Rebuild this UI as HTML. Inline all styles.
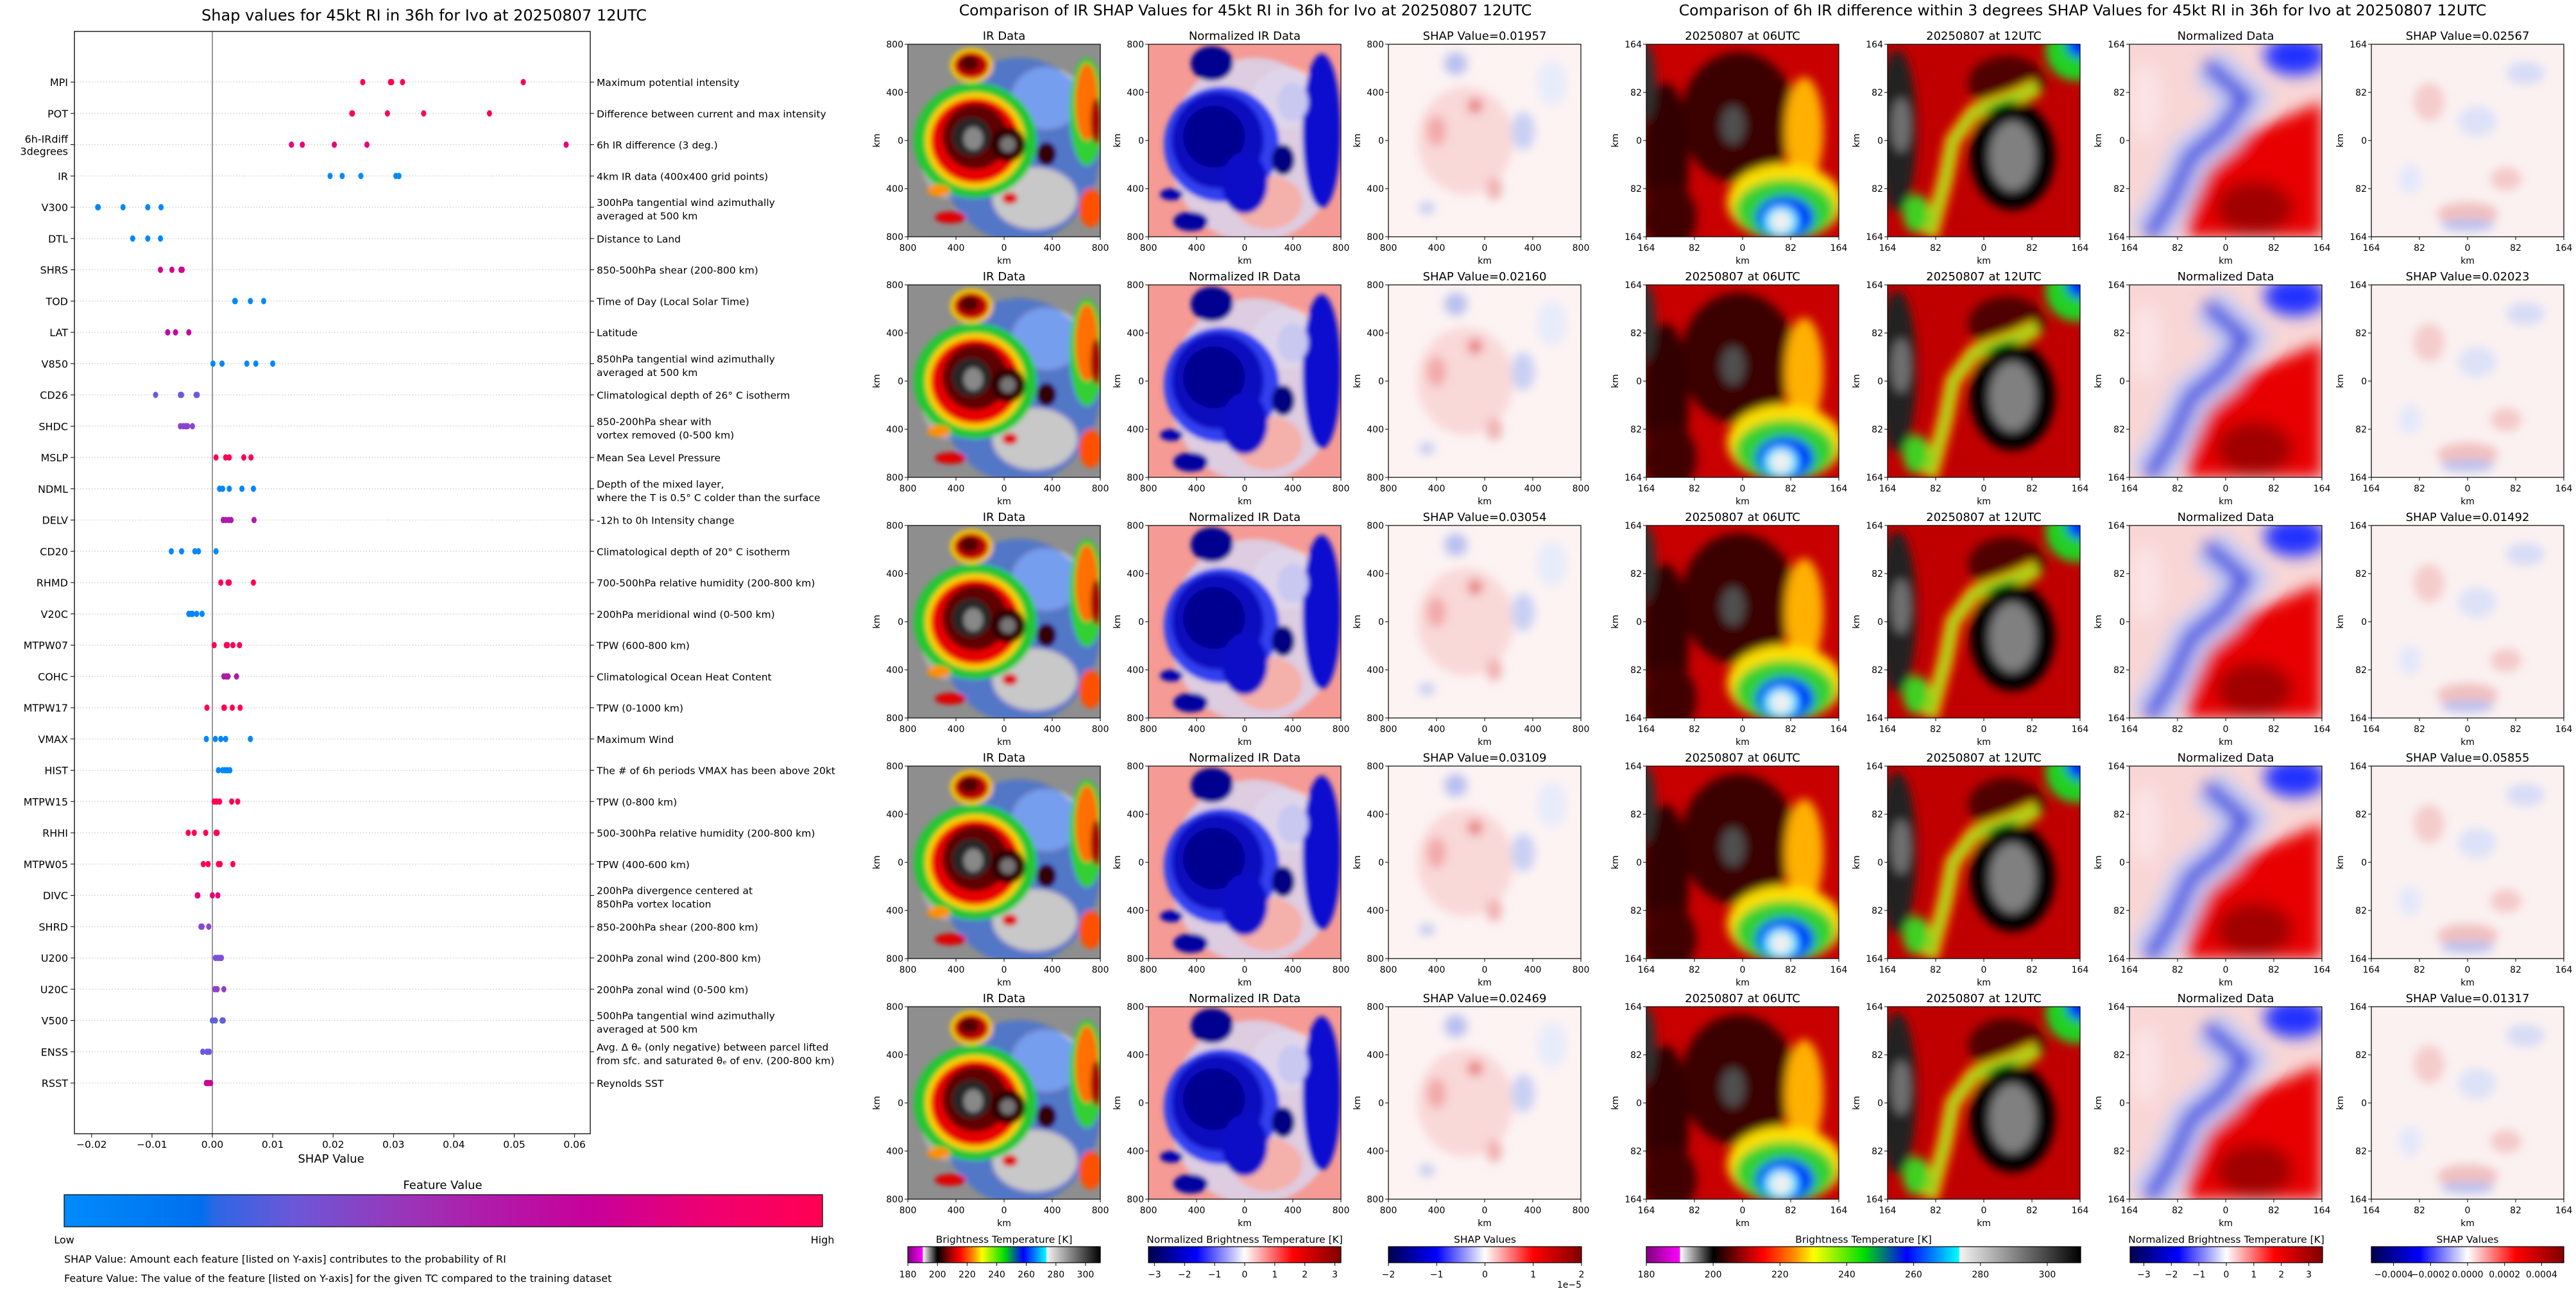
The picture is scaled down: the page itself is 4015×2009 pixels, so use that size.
<!DOCTYPE html>
<html><head><meta charset="utf-8">
<style>
html,body{margin:0;padding:0;background:#fff;}
body{width:4015px;height:2009px;overflow:hidden;}
svg{display:block;font-family:"DejaVu Sans","Liberation Sans",sans-serif;}
</style></head>
<body>
<svg id="root" width="4015" height="2009" viewBox="0 0 4015 2009" xmlns="http://www.w3.org/2000/svg">
<defs>
<filter id="b1" x="-20%" y="-20%" width="140%" height="140%"><feGaussianBlur stdDeviation="1.2"/></filter>
<filter id="b2" x="-20%" y="-20%" width="140%" height="140%"><feGaussianBlur stdDeviation="2.5"/></filter>
<filter id="b3" x="-20%" y="-20%" width="140%" height="140%"><feGaussianBlur stdDeviation="4"/></filter>
<linearGradient id="gFeat" x1="0" x2="1" y1="0" y2="0">
<stop offset="0" stop-color="#008bfb"/><stop offset="0.18" stop-color="#0070ee"/><stop offset="0.2" stop-color="#2d66e4"/><stop offset="0.3" stop-color="#6a58d8"/><stop offset="0.45" stop-color="#9a35b8"/><stop offset="0.6" stop-color="#b812a4"/><stop offset="0.7" stop-color="#c8009a"/><stop offset="0.85" stop-color="#ef0070"/><stop offset="1" stop-color="#ff0052"/>
</linearGradient>
<linearGradient id="gBT" x1="0" x2="1" y1="0" y2="0">
<stop offset="0" stop-color="#800080"/><stop offset="0.077" stop-color="#ff00ff"/><stop offset="0.078" stop-color="#ffffff"/><stop offset="0.154" stop-color="#000000"/><stop offset="0.23" stop-color="#b00000"/><stop offset="0.27" stop-color="#ff0000"/><stop offset="0.34" stop-color="#ff8c00"/><stop offset="0.385" stop-color="#ffff00"/><stop offset="0.5" stop-color="#00e000"/><stop offset="0.6" stop-color="#0000ff"/><stop offset="0.72" stop-color="#00ffff"/><stop offset="0.721" stop-color="#f4f4f4"/><stop offset="1" stop-color="#000000"/>
</linearGradient>
<linearGradient id="gSeis" x1="0" x2="1" y1="0" y2="0">
<stop offset="0" stop-color="#00004c"/><stop offset="0.25" stop-color="#0000ff"/><stop offset="0.5" stop-color="#ffffff"/><stop offset="0.75" stop-color="#ff0000"/><stop offset="1" stop-color="#800000"/>
</linearGradient>

<symbol id="symIR" viewBox="0 0 100 100" preserveAspectRatio="none">
<rect width="100" height="100" fill="#8e8e8e"/>
<g filter="url(#b1)">
<ellipse cx="72" cy="28" rx="18" ry="16" fill="#dcdcdc"/>
<ellipse cx="20" cy="55" rx="14" ry="25" fill="#b0b0b0"/>
<ellipse cx="58" cy="55" rx="42" ry="48" fill="#1060ff" opacity="0.5"/>
<ellipse cx="66" cy="80" rx="22" ry="16" fill="#c8c8c8"/>
<ellipse cx="35" cy="50" rx="32" ry="30" fill="#20c830"/>
<ellipse cx="35" cy="50" rx="26" ry="25" fill="#ffd000"/>
<ellipse cx="35" cy="50" rx="23" ry="22" fill="#e80000"/>
<ellipse cx="35" cy="48" rx="17" ry="17" fill="#600000"/>
<ellipse cx="33" cy="48" rx="10" ry="10" fill="#282828"/>
<ellipse cx="34" cy="49" rx="5" ry="6" fill="#888"/>
<ellipse cx="52" cy="52" rx="9" ry="9" fill="#300000"/>
<ellipse cx="52" cy="52" rx="4" ry="4" fill="#777"/>
<ellipse cx="33" cy="11" rx="11" ry="9" fill="#ffcf00"/>
<ellipse cx="33" cy="11" rx="9" ry="7" fill="#c00000"/>
<ellipse cx="32" cy="10" rx="5" ry="4" fill="#500000"/>
<ellipse cx="72" cy="57" rx="5" ry="6" fill="#300000"/>
<ellipse cx="93" cy="35" rx="9" ry="28" fill="#30d030"/>
<ellipse cx="93" cy="30" rx="6" ry="20" fill="#ff7000"/>
<ellipse cx="98" cy="40" rx="3" ry="12" fill="#a00000"/>
<ellipse cx="95" cy="85" rx="6" ry="10" fill="#ff5000"/>
<ellipse cx="22" cy="90" rx="8" ry="3" fill="#e00000"/>
<ellipse cx="16" cy="76" rx="6" ry="3" fill="#ff9000"/>
<ellipse cx="53" cy="80" rx="4" ry="3" fill="#e00000"/>
</g>
</symbol>

<symbol id="symNIR" viewBox="0 0 100 100" preserveAspectRatio="none">
<rect width="100" height="100" fill="#f59a94"/>
<g filter="url(#b1)">
<ellipse cx="72" cy="28" rx="18" ry="16" fill="#f8c8c4"/>
<ellipse cx="55" cy="55" rx="44" ry="48" fill="#d8d8f4" opacity="0.8"/>
<ellipse cx="62" cy="82" rx="18" ry="14" fill="#f4b0aa"/>
<ellipse cx="38" cy="52" rx="30" ry="30" fill="#3040f0"/>
<ellipse cx="36" cy="50" rx="24" ry="25" fill="#0808c0"/>
<ellipse cx="34" cy="48" rx="16" ry="16" fill="#000090"/>
<ellipse cx="50" cy="72" rx="12" ry="16" fill="#1010c8"/>
<ellipse cx="33" cy="10" rx="11" ry="9" fill="#000090"/>
<ellipse cx="90" cy="45" rx="10" ry="40" fill="#1010d0"/>
<ellipse cx="75" cy="30" rx="8" ry="10" fill="#c8c8f0"/>
<ellipse cx="22" cy="92" rx="9" ry="5" fill="#0000a0"/>
<ellipse cx="12" cy="78" rx="6" ry="3" fill="#0000b0"/>
<ellipse cx="70" cy="60" rx="6" ry="8" fill="#000080"/>
</g>
</symbol>

<symbol id="symSIR" viewBox="0 0 100 100" preserveAspectRatio="none">
<rect width="100" height="100" fill="#fdf3f3"/>
<g filter="url(#b2)">
<ellipse cx="40" cy="50" rx="25" ry="28" fill="#f9d8d8"/>
<ellipse cx="25" cy="45" rx="5" ry="8" fill="#f2a8a8"/>
<ellipse cx="45" cy="32" rx="4" ry="4" fill="#e88080"/>
<ellipse cx="35" cy="10" rx="6" ry="6" fill="#b8c0f0"/>
<ellipse cx="70" cy="45" rx="6" ry="10" fill="#c8d0f4"/>
<ellipse cx="85" cy="20" rx="8" ry="12" fill="#e8ecfa"/>
<ellipse cx="55" cy="75" rx="4" ry="6" fill="#f0b0b0"/>
<ellipse cx="20" cy="85" rx="4" ry="3" fill="#c0c8f0"/>
</g>
</symbol>

<symbol id="sym06" viewBox="0 0 100 100" preserveAspectRatio="none">
<rect width="100" height="100" fill="#c80000"/>
<g filter="url(#b2)">
<ellipse cx="48" cy="38" rx="30" ry="34" fill="#3a0000"/>
<ellipse cx="10" cy="60" rx="12" ry="40" fill="#300000"/>
<ellipse cx="12" cy="90" rx="14" ry="18" fill="#400000"/>
<ellipse cx="0" cy="20" rx="5" ry="20" fill="#303030"/>
<ellipse cx="82" cy="45" rx="10" ry="28" fill="#ffb000"/>
<ellipse cx="72" cy="82" rx="30" ry="20" fill="#ffe000"/>
<ellipse cx="72" cy="86" rx="26" ry="16" fill="#30d030"/>
<ellipse cx="72" cy="90" rx="15" ry="11" fill="#0030ff"/>
<ellipse cx="70" cy="92" rx="9" ry="8" fill="#00e8ff"/>
<ellipse cx="70" cy="92" rx="6" ry="6" fill="#f0f0f0"/>
<ellipse cx="45" cy="42" rx="6" ry="10" fill="#505050"/>
</g>
</symbol>

<symbol id="sym12" viewBox="0 0 100 100" preserveAspectRatio="none">
<rect width="100" height="100" fill="#c00000"/>
<g filter="url(#b2)">
<ellipse cx="5" cy="45" rx="10" ry="42" fill="#202020"/>
<ellipse cx="7" cy="42" rx="5" ry="14" fill="#707070"/>
<ellipse cx="62" cy="20" rx="20" ry="14" fill="#500000"/>
<polyline points="22,100 30,70 34,50 45,35 65,28 78,22" fill="none" stroke="#ffd000" stroke-width="8"/>
<polyline points="22,100 30,70 34,50 45,35 65,28 78,22" fill="none" stroke="#20d020" stroke-width="3"/>
<ellipse cx="65" cy="58" rx="22" ry="28" fill="#000"/>
<ellipse cx="65" cy="58" rx="12" ry="18" fill="#808080"/>
<ellipse cx="98" cy="3" rx="16" ry="16" fill="#20d020"/>
<ellipse cx="100" cy="0" rx="7" ry="7" fill="#0030ff"/>
<ellipse cx="15" cy="88" rx="7" ry="10" fill="#40d020"/>
</g>
</symbol>

<symbol id="symND" viewBox="0 0 100 100" preserveAspectRatio="none">
<rect width="100" height="100" fill="#f8d6d6"/>
<g filter="url(#b3)">
<polygon points="40,55 100,30 100,100 28,100" fill="#e80000"/>
<ellipse cx="65" cy="85" rx="20" ry="14" fill="#a00000"/>
<polyline points="40,10 60,28 48,45 32,58 22,80 10,100" fill="none" stroke="#c8ccf4" stroke-width="22"/>
<polyline points="40,10 60,28 48,45 32,58 22,80 10,100" fill="none" stroke="#3040e0" stroke-width="8"/>
<ellipse cx="86" cy="6" rx="16" ry="10" fill="#2030ff"/>
<ellipse cx="8" cy="30" rx="8" ry="20" fill="#fbe4e4"/>
</g>
</symbol>

<symbol id="symSD" viewBox="0 0 100 100" preserveAspectRatio="none">
<rect width="100" height="100" fill="#fbf1f1"/>
<g filter="url(#b2)">
<ellipse cx="30" cy="30" rx="8" ry="10" fill="#f4cccc"/>
<ellipse cx="55" cy="40" rx="10" ry="8" fill="#dde2f8"/>
<ellipse cx="80" cy="15" rx="10" ry="6" fill="#d8dcf6"/>
<ellipse cx="70" cy="70" rx="8" ry="6" fill="#f4c8c8"/>
<ellipse cx="50" cy="88" rx="16" ry="6" fill="#f0c0c0"/>
<ellipse cx="50" cy="94" rx="14" ry="3" fill="#b8c0f0"/>
<ellipse cx="20" cy="70" rx="6" ry="8" fill="#e4e8fa"/>
</g>
</symbol>
</defs>
<g id="layer"></g>
</svg>

<script>
// ---------- SHAP summary data ----------
const features = ["MPI","POT","6h-IRdiff\n3degrees","IR","V300","DTL","SHRS","TOD","LAT","V850","CD26","SHDC","MSLP","NDML","DELV","CD20","RHMD","V20C","MTPW07","COHC","MTPW17","VMAX","HIST","MTPW15","RHHI","MTPW05","DIVC","SHRD","U200","U20C","V500","ENSS","RSST"];
const descriptions = [
"Maximum potential intensity",
"Difference between current and max intensity",
"6h IR difference (3 deg.)",
"4km IR data (400x400 grid points)",
"300hPa tangential wind azimuthally\naveraged at 500 km",
"Distance to Land",
"850-500hPa shear (200-800 km)",
"Time of Day (Local Solar Time)",
"Latitude",
"850hPa tangential wind azimuthally\naveraged at 500 km",
"Climatological depth of 26° C isotherm",
"850-200hPa shear with\nvortex removed (0-500 km)",
"Mean Sea Level Pressure",
"Depth of the mixed layer,\nwhere the T is 0.5° C colder than the surface",
"-12h to 0h Intensity change",
"Climatological depth of 20° C isotherm",
"700-500hPa relative humidity (200-800 km)",
"200hPa meridional wind (0-500 km)",
"TPW (600-800 km)",
"Climatological Ocean Heat Content",
"TPW (0-1000 km)",
"Maximum Wind",
"The # of 6h periods VMAX has been above 20kt",
"TPW (0-800 km)",
"500-300hPa relative humidity (200-800 km)",
"TPW (400-600 km)",
"200hPa divergence centered at\n850hPa vortex location",
"850-200hPa shear (200-800 km)",
"200hPa zonal wind (200-800 km)",
"200hPa zonal wind (0-500 km)",
"500hPa tangential wind azimuthally\naveraged at 500 km",
"Avg. Δ θₑ (only negative) between parcel lifted\nfrom sfc. and saturated θₑ of env. (200-800 km)",
"Reynolds SST"];
const shapValues = [
[0.0249,0.0295,0.0297,0.0315,0.0515],
[0.0231,0.0232,0.029,0.035,0.0459],
[0.0131,0.0149,0.0202,0.0256,0.0586],
[0.0195,0.0215,0.0246,0.0304,0.0309],
[-0.019,-0.0189,-0.0148,-0.0107,-0.0085],
[-0.0132,-0.0107,-0.0086],
[-0.0086,-0.0067,-0.0052,-0.005],
[0.0037,0.0038,0.0063,0.0085],
[-0.0074,-0.0061,-0.0039],
[0.0001,0.0016,0.0057,0.0072,0.01],
[-0.0094,-0.0053,-0.0051,-0.0027,-0.0025],
[-0.0053,-0.0048,-0.0044,-0.0041,-0.0033],
[0.0006,0.0022,0.0028,0.0052,0.0064],
[0.0012,0.0017,0.0028,0.0049,0.0068],
[0.0018,0.0022,0.0027,0.0031,0.0069],
[-0.0068,-0.0051,-0.0029,-0.0023,0.0006],
[0.0014,0.0026,0.0028,0.0068],
[-0.0039,-0.0035,-0.0033,-0.0026,-0.0017],
[0.0003,0.0023,0.0025,0.0034,0.0045],
[0.0019,0.0023,0.0026,0.004],
[-0.0009,0.0019,0.002,0.0033,0.0046],
[-0.001,0.0005,0.0014,0.0022,0.0063],
[0.001,0.0017,0.0021,0.0025,0.0029],
[0.0003,0.0007,0.0012,0.0032,0.0042],
[-0.004,-0.003,-0.0011,0.0006,0.0008],
[-0.0015,-0.0007,0.001,0.0013,0.0034],
[-0.0025,-0.0024,0,0.0009],
[-0.0019,-0.0017,-0.0006],
[0.0005,0.0009,0.0013,0.0015],
[0.0004,0.0008,0.0019],
[0,0.0005,0.0016,0.0018],
[-0.0016,-0.0009,-0.0005],
[-0.001,-0.0007,-0.0003]];
const featureColors = ["#ff0052","#ff0054","#e8007a","#008bfb","#0088fa","#0088fa","#d4008e","#0088fa","#c5009e","#0088fa","#6a5ae0","#8a45d0","#ff0052","#0088fa","#b01aa8","#0088fa","#ff0052","#0088fa","#ff0052","#b01aa8","#ff0052","#0088fa","#0088fa","#ff0052","#ff0052","#ff0052","#e8007a","#8a45d0","#7a50d8","#9040c8","#6060e0","#6a5ae0","#c8009a"];
const xTicks = [-0.02,-0.01,0,0.01,0.02,0.03,0.04,0.05,0.06];
const xTickLabels = ["−0.02","−0.01","0.00","0.01","0.02","0.03","0.04","0.05","0.06"];
// ---------- image panel data ----------
const irShapTitles = ["0.01957","0.02160","0.03054","0.03109","0.02469"];
const diffShapTitles = ["0.02567","0.02023","0.01492","0.05855","0.01317"];
const irTicks = ["800","400","0","400","800"];
const diffTicks = ["164","82","0","82","164"];
const btTicks = [180,200,220,240,260,280,300];
const normTicks = [-3,-2,-1,0,1,2,3];
const shapIrTicks = [-2,-1,0,1,2];
const shapDiffTicks = [-0.0004,-0.0002,0,0.0002,0.0004];
const shapDiffTickLabels = ["−0.0004","−0.0002","0.0000","0.0002","0.0004"];

const NS="http://www.w3.org/2000/svg";
const layer=document.getElementById('layer');
function mk(tag,attrs,parent){const e=document.createElementNS(NS,tag);for(const k in attrs)e.setAttribute(k,attrs[k]);(parent||layer).appendChild(e);return e;}
function txt(s,attrs,parent){const e=mk('text',attrs,parent);e.textContent=s;return e;}

// ---------- SHAP axes ----------
const AX={l:116,r:920,t:49,b:1767};
const x0=331, perUnit=9410;
function xs(v){return x0+v*perUnit;}
function yr(i){return 128+i*48.75;}

let t=txt("Shap values for 45kt RI in 36h for Ivo at 20250807 12UTC",{x:661,y:32,'font-size':24,'text-anchor':'middle'});



const shapG=mk('g',{});



features.forEach((f,i)=>{
  const y=yr(i);
  const gl=mk('line',{x1:AX.l,x2:AX.r,y1:y,y2:y,stroke:'#c8c8c8','stroke-width':1.2,'stroke-dasharray':'1.5,3'},shapG);
  
  
  mk('line',{x1:AX.l-6,x2:AX.l,y1:y,y2:y,stroke:'#000','stroke-width':1},shapG);
  mk('line',{x1:AX.r,x2:AX.r+6,y1:y,y2:y,stroke:'#000','stroke-width':1},shapG);
  const parts=f.split("\n");
  if(parts.length===1){
    const lb=txt(f,{x:AX.l-10,y:y+6,'font-size':16,'text-anchor':'end'},shapG);
    
    
  } else {
    parts.forEach((p,k)=>{
      const lb=txt(p,{x:AX.l-10,y:y-3+k*19,'font-size':16,'text-anchor':'end'},shapG);
      
      
    });
  }
  const dl=descriptions[i].split("\n");
  const off = dl.length===1 ? [6] : [-2,19];
  dl.forEach((p,k)=>{
    const d=txt(p,{x:AX.r+10,y:y+off[k],'font-size':15.5},shapG);
    
    
  });
});
const zl=mk('line',{x1:x0,x2:x0,y1:AX.t,y2:AX.b,stroke:'#999','stroke-width':2},shapG);


shapValues.forEach((vals,i)=>{
  vals.forEach(v=>{
    const d=mk('ellipse',{cx:xs(v),cy:yr(i),rx:4,ry:5,fill:featureColors[i]},shapG);
    
    
  });
});
const fr=mk('rect',{x:AX.l,y:AX.t,width:AX.r-AX.l,height:AX.b-AX.t,fill:'none',stroke:'#000','stroke-width':1.3},shapG);


xTicks.forEach((v,k)=>{
  mk('line',{x1:xs(v),x2:xs(v),y1:AX.b,y2:AX.b+6,stroke:'#000'},shapG);
  const tl=txt(xTickLabels[k],{x:xs(v),y:1789,'font-size':15.5,'text-anchor':'middle'},shapG);
  
  
});
t=txt("SHAP Value",{x:516,y:1812,'font-size':18,'text-anchor':'middle'});


t=txt("Feature Value",{x:690,y:1853,'font-size':18,'text-anchor':'middle'});


let cb=mk('rect',{x:100,y:1862,width:1182,height:50,fill:'url(#gFeat)',stroke:'#000','stroke-width':1.2});


t=txt("Low",{x:100,y:1938,'font-size':16,'text-anchor':'middle'});


t=txt("High",{x:1282,y:1938,'font-size':16,'text-anchor':'middle'});


t=txt("SHAP Value: Amount each feature [listed on Y-axis] contributes to the probability of RI",{x:100,y:1968,'font-size':16});


t=txt("Feature Value: The value of the feature [listed on Y-axis] for the given TC compared to the training dataset",{x:100,y:1998,'font-size':16});



// ---------- Image grids ----------
t=txt("Comparison of IR SHAP Values for 45kt RI in 36h for Ivo at 20250807 12UTC",{x:1941,y:24,'font-size':23.5,'text-anchor':'middle'});


t=txt("Comparison of 6h IR difference within 3 degrees SHAP Values for 45kt RI in 36h for Ivo at 20250807 12UTC",{x:3246,y:24,'font-size':23.5,'text-anchor':'middle'});



function panel(x,y,sym,title,ticks,name){
  const g=mk('g',{});
  
  
  mk('use',{href:'#'+sym,x:x,y:y,width:300,height:300},g);
  mk('rect',{x:x,y:y,width:300,height:300,fill:'none',stroke:'#000','stroke-width':1.2},g);
  const tt=txt(title,{x:x+150,y:y-7,'font-size':18,'text-anchor':'middle'},g);
  
  
  ticks.forEach((s,k)=>{
    const p=k*75;
    mk('line',{x1:x-5,x2:x,y1:y+p,y2:y+p,stroke:'#000'},g);
    mk('line',{x1:x+p,x2:x+p,y1:y+300,y2:y+305,stroke:'#000'},g);
    txt(s,{x:x-7,y:y+p+5,'font-size':14,'text-anchor':'end'},g);
    txt(s,{x:x+p,y:y+322,'font-size':14,'text-anchor':'middle'},g);
  });
  txt("km",{x:x+150,y:y+342,'font-size':14,'text-anchor':'middle'},g);
  txt("km",{x:0,y:0,'font-size':14,'text-anchor':'middle',transform:`translate(${x-44},${y+150}) rotate(-90)`},g);
}
const midX=[1415,1790,2164];
const rightX=[2566,2942,3319,3696];
for(let r=0;r<5;r++){
  const y=69+r*375;
  panel(midX[0],y,'symIR',"IR Data",irTicks,'ir-data-panel');
  panel(midX[1],y,'symNIR',"Normalized IR Data",irTicks,'normalized-ir-panel');
  panel(midX[2],y,'symSIR',"SHAP Value="+irShapTitles[r],irTicks,'ir-shap-panel');
  panel(rightX[0],y,'sym06',"20250807 at 06UTC",diffTicks,'ir-06utc-panel');
  panel(rightX[1],y,'sym12',"20250807 at 12UTC",diffTicks,'ir-12utc-panel');
  panel(rightX[2],y,'symND',"Normalized Data",diffTicks,'normalized-diff-panel');
  panel(rightX[3],y,'symSD',"SHAP Value="+diffShapTitles[r],diffTicks,'diff-shap-panel');
}

function colorbar(x,w,grad,title,ticks,labels,vmin,vmax,name){
  const g=mk('g',{});
  
  
  txt(title,{x:x+w/2,y:1937,'font-size':15.5,'text-anchor':'middle'},g);
  mk('rect',{x:x,y:1943,width:w,height:25,fill:grad,stroke:'#000','stroke-width':1.2},g);
  ticks.forEach((v,k)=>{
    const px=x+(v-vmin)/(vmax-vmin)*w;
    mk('line',{x1:px,x2:px,y1:1968,y2:1973,stroke:'#000'},g);
    txt(labels[k],{x:px,y:1991,'font-size':14,'text-anchor':'middle'},g);
  });
}
colorbar(1415,300,'url(#gBT)',"Brightness Temperature [K]",btTicks,btTicks.map(String),180,310,'ir-bt-colorbar');
colorbar(1790,300,'url(#gSeis)',"Normalized Brightness Temperature [K]",normTicks,normTicks.map(v=>v<0?"−"+(-v):String(v)),-3.2,3.2,'ir-norm-colorbar');
colorbar(2164,301,'url(#gSeis)',"SHAP Values",shapIrTicks,shapIrTicks.map(v=>v<0?"−"+(-v):String(v)),-2,2,'ir-shap-colorbar');
t=txt("1e−5",{x:2465,y:2007,'font-size':14,'text-anchor':'end'});


colorbar(2566,677,'url(#gBT)',"Brightness Temperature [K]",btTicks,btTicks.map(String),180,310,'diff-bt-colorbar');
colorbar(3320,300,'url(#gSeis)',"Normalized Brightness Temperature [K]",normTicks,normTicks.map(v=>v<0?"−"+(-v):String(v)),-3.5,3.5,'diff-norm-colorbar');
colorbar(3696,300,'url(#gSeis)',"SHAP Values",shapDiffTicks,shapDiffTickLabels,-0.00052,0.00052,'diff-shap-colorbar');
</script>
</body></html>
